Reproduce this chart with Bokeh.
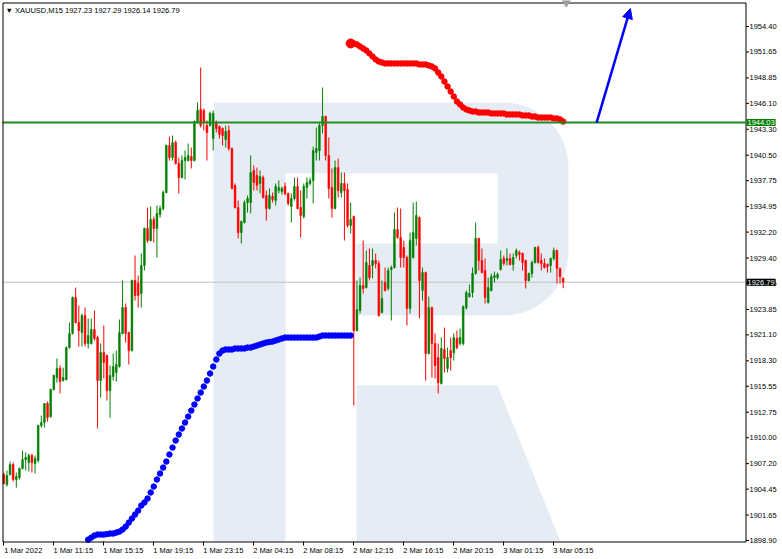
import numpy as np
from bokeh.plotting import figure
from bokeh.models import (FixedTicker, LinearAxis, Range1d, Label, Arrow,
                          NormalHead, ColumnDataSource)
from bokeh.core.properties import value
from bokeh.embed import file_html
from bokeh.resources import INLINE

# ---------------- data (XAUUSD, M15) ----------------
symbol_header = "\u25bc XAUUSD,M15  1927.23 1927.29 1926.14 1926.79"

open_ = [1906.02, 1904.94, 1906.02, 1907.10, 1905.48, 1905.69, 1906.67, 1907.64, 1907.31, 1908.07,
         1907.21, 1907.53, 1911.31, 1911.63, 1913.69, 1912.28, 1915.20, 1916.49, 1917.47, 1916.17,
         1916.28, 1919.73, 1921.25, 1925.13, 1922.43, 1921.35, 1923.19, 1920.17, 1920.17, 1921.68,
         1920.81, 1916.17, 1919.19, 1918.87, 1915.09, 1916.60, 1917.03, 1917.68, 1921.25, 1924.05,
         1921.35, 1919.41, 1926.97, 1926.65, 1925.57, 1928.59, 1932.59, 1931.29, 1933.56, 1932.59,
         1934.10, 1934.75, 1936.47, 1941.55, 1940.25, 1941.87, 1939.61, 1938.09, 1939.93, 1939.93,
         1940.36, 1939.93, 1944.03, 1945.44, 1945.33, 1943.71, 1943.71, 1942.31, 1944.03, 1943.60,
         1943.39, 1942.20, 1943.17, 1941.23, 1937.23, 1934.85, 1932.15, 1933.23, 1935.39, 1935.39,
         1938.85, 1938.31, 1937.45, 1938.09, 1936.15, 1934.75, 1936.04, 1935.61, 1936.69, 1936.58,
         1937.12, 1936.37, 1934.96, 1935.83, 1937.12, 1934.85, 1933.88, 1937.01, 1937.45, 1937.77,
         1940.79, 1941.01, 1943.71, 1944.68, 1940.47, 1937.01, 1934.75, 1939.17, 1936.47, 1937.45,
         1936.80, 1932.91, 1933.88, 1921.57, 1923.73, 1926.43, 1926.21, 1928.59, 1928.59, 1929.13,
         1928.81, 1923.51, 1926.75, 1926.11, 1928.16, 1928.37, 1932.48, 1931.61, 1930.53, 1929.45,
         1923.95, 1929.45, 1931.51, 1933.77, 1925.89, 1927.83, 1919.09, 1924.05, 1920.17, 1918.65,
         1915.85, 1919.52, 1917.47, 1919.41, 1919.19, 1920.71, 1920.17, 1920.17, 1924.05, 1925.24,
         1925.67, 1927.73, 1931.51, 1929.13, 1928.05, 1924.59, 1925.89, 1927.29, 1927.29, 1928.16,
         1929.35, 1929.13, 1929.35, 1928.70, 1929.67, 1929.99, 1929.89, 1929.13, 1926.97, 1927.73,
         1928.91, 1930.53, 1929.13, 1928.81, 1928.70, 1928.59, 1929.35, 1930.21, 1928.27, 1927.23]
high = [1906.23, 1906.45, 1907.42, 1907.31, 1906.23, 1906.77, 1908.61, 1908.39, 1908.28, 1908.28,
        1908.07, 1911.42, 1912.39, 1913.69, 1913.90, 1915.31, 1916.82, 1918.55, 1917.79, 1917.57,
        1919.84, 1922.43, 1925.24, 1926.21, 1924.27, 1923.41, 1924.05, 1922.87, 1922.87, 1923.73,
        1921.03, 1920.17, 1922.11, 1918.98, 1917.79, 1919.09, 1919.41, 1922.76, 1926.97, 1924.49,
        1921.46, 1927.08, 1929.67, 1927.51, 1929.89, 1932.69, 1934.85, 1934.96, 1933.88, 1935.07,
        1935.07, 1936.69, 1941.66, 1942.52, 1942.63, 1942.09, 1940.25, 1940.47, 1941.01, 1941.77,
        1941.33, 1944.25, 1946.19, 1949.97, 1945.55, 1944.25, 1945.22, 1945.33, 1944.25, 1943.71,
        1943.49, 1943.71, 1943.71, 1941.33, 1937.45, 1935.61, 1933.45, 1935.61, 1936.15, 1940.47,
        1939.39, 1939.17, 1938.85, 1938.31, 1936.69, 1936.91, 1936.47, 1937.45, 1937.77, 1937.12,
        1937.55, 1936.47, 1936.37, 1938.09, 1938.09, 1936.69, 1937.45, 1938.09, 1938.09, 1941.44,
        1943.49, 1944.03, 1947.81, 1944.79, 1942.41, 1939.07, 1939.93, 1940.15, 1938.63, 1938.63,
        1937.45, 1935.39, 1933.99, 1926.97, 1927.29, 1931.29, 1930.21, 1930.43, 1930.43, 1929.89,
        1929.13, 1926.97, 1928.37, 1928.37, 1928.59, 1934.31, 1934.85, 1934.75, 1931.29, 1929.67,
        1932.15, 1935.39, 1935.50, 1933.88, 1928.37, 1927.94, 1925.24, 1924.16, 1921.25, 1920.17,
        1920.81, 1921.89, 1919.73, 1920.81, 1921.25, 1921.57, 1921.79, 1924.27, 1925.89, 1926.54,
        1928.37, 1933.23, 1931.61, 1930.43, 1929.35, 1927.29, 1927.73, 1927.94, 1927.83, 1930.21,
        1929.67, 1930.43, 1929.89, 1929.89, 1930.43, 1930.21, 1929.99, 1929.24, 1927.83, 1929.13,
        1930.64, 1930.75, 1929.89, 1929.35, 1928.81, 1929.45, 1930.53, 1930.32, 1928.37, 1927.29]
low = [1904.94, 1904.72, 1905.91, 1905.26, 1904.61, 1905.48, 1906.56, 1906.45, 1906.34, 1906.23,
       1906.13, 1907.31, 1911.09, 1911.09, 1911.74, 1912.17, 1915.09, 1915.95, 1914.77, 1916.06,
       1916.17, 1919.63, 1921.14, 1922.33, 1919.84, 1919.84, 1919.84, 1919.63, 1920.06, 1920.49,
       1910.99, 1914.33, 1916.39, 1914.01, 1912.17, 1916.17, 1916.06, 1917.57, 1921.14, 1920.27,
       1917.90, 1919.30, 1924.81, 1924.05, 1924.05, 1928.05, 1931.07, 1931.18, 1931.07, 1929.45,
       1933.77, 1934.53, 1936.37, 1939.93, 1939.93, 1939.50, 1936.37, 1937.99, 1937.88, 1939.82,
       1939.07, 1939.82, 1943.93, 1943.49, 1943.17, 1939.93, 1943.60, 1941.01, 1942.95, 1942.31,
       1941.55, 1941.33, 1941.01, 1936.80, 1934.75, 1931.51, 1930.97, 1933.13, 1934.31, 1934.21,
       1936.69, 1936.69, 1936.37, 1935.83, 1933.45, 1934.64, 1935.39, 1935.07, 1936.37, 1936.26,
       1936.15, 1935.07, 1933.23, 1935.61, 1934.64, 1931.61, 1933.67, 1935.83, 1937.23, 1935.29,
       1939.93, 1939.93, 1942.85, 1939.93, 1935.83, 1933.77, 1934.64, 1935.93, 1935.93, 1931.29,
       1932.69, 1932.05, 1913.47, 1921.46, 1923.41, 1925.57, 1926.11, 1926.97, 1927.19, 1928.27,
       1923.08, 1923.41, 1925.79, 1925.89, 1922.65, 1928.27, 1931.51, 1928.37, 1928.37, 1922.11,
       1923.41, 1929.35, 1930.75, 1922.87, 1924.81, 1916.17, 1918.98, 1916.49, 1916.39, 1914.77,
       1915.74, 1917.03, 1917.03, 1917.25, 1918.33, 1919.52, 1919.95, 1919.95, 1923.84, 1925.13,
       1925.13, 1927.62, 1928.05, 1927.73, 1924.49, 1924.49, 1925.79, 1926.75, 1927.08, 1928.05,
       1928.59, 1928.59, 1928.59, 1928.05, 1929.35, 1929.13, 1928.05, 1926.11, 1926.86, 1927.29,
       1928.81, 1928.81, 1928.05, 1928.27, 1927.83, 1927.83, 1929.13, 1926.65, 1926.65, 1926.14]
close = [1905.05, 1905.91, 1907.10, 1905.48, 1905.80, 1906.67, 1907.64, 1907.85, 1908.07, 1907.31,
         1907.74, 1911.31, 1911.63, 1913.69, 1912.17, 1915.20, 1916.71, 1917.47, 1916.06, 1916.49,
         1919.73, 1921.25, 1925.13, 1922.43, 1921.57, 1923.19, 1920.17, 1921.03, 1921.68, 1920.71,
         1916.17, 1919.19, 1918.11, 1915.09, 1916.71, 1917.68, 1917.90, 1921.35, 1924.05, 1921.25,
         1919.41, 1926.97, 1925.35, 1925.35, 1928.59, 1932.59, 1931.29, 1933.56, 1932.59, 1934.21,
         1934.75, 1936.47, 1941.55, 1940.25, 1941.87, 1939.61, 1938.09, 1939.93, 1940.25, 1940.47,
         1939.93, 1944.14, 1945.33, 1943.71, 1944.03, 1942.95, 1945.01, 1945.01, 1943.39, 1942.74,
         1942.63, 1943.06, 1941.23, 1936.91, 1934.85, 1932.15, 1933.34, 1935.39, 1935.83, 1938.63,
         1937.55, 1937.23, 1938.20, 1935.93, 1934.75, 1936.15, 1935.72, 1937.12, 1937.01, 1936.91,
         1936.37, 1935.29, 1935.83, 1937.12, 1934.75, 1933.99, 1937.12, 1937.55, 1937.77, 1941.01,
         1941.23, 1943.71, 1944.68, 1940.47, 1936.91, 1934.75, 1939.17, 1936.69, 1937.45, 1936.69,
         1932.91, 1933.56, 1921.57, 1923.84, 1926.43, 1926.11, 1928.91, 1927.29, 1929.13, 1928.81,
         1923.19, 1925.03, 1925.89, 1928.05, 1928.37, 1932.48, 1931.61, 1929.45, 1929.45, 1923.95,
         1931.29, 1932.15, 1933.99, 1926.97, 1927.83, 1919.09, 1924.05, 1920.17, 1917.79, 1915.95,
         1919.63, 1918.55, 1918.65, 1918.65, 1920.81, 1919.73, 1920.81, 1924.16, 1925.67, 1925.57,
         1927.73, 1931.51, 1929.13, 1927.83, 1925.13, 1926.21, 1927.40, 1927.51, 1927.62, 1929.24,
         1928.81, 1929.35, 1928.70, 1929.45, 1930.21, 1929.78, 1928.91, 1926.97, 1927.73, 1928.91,
         1930.53, 1928.91, 1928.81, 1928.37, 1928.48, 1929.35, 1930.21, 1928.27, 1927.40, 1926.79]

# blue dotted indicator (bars 27..111) and red dotted indicator (bars 111..179)
blue_start = 27
blue_vals = [1898.99, 1899.21, 1899.43, 1899.54, 1899.54, 1899.54, 1899.59, 1899.65, 1899.65, 1899.75,
             1899.86, 1900.08, 1900.40, 1900.83, 1901.27, 1901.70, 1902.13, 1902.67, 1903.00, 1903.43,
             1904.08, 1904.72, 1905.48, 1906.13, 1906.77, 1907.42, 1908.18, 1908.93, 1909.69, 1910.34,
             1910.99, 1911.63, 1912.28, 1912.93, 1913.58, 1914.23, 1914.87, 1915.52, 1916.17, 1916.93,
             1917.68, 1918.44, 1919.09, 1919.41, 1919.52, 1919.52, 1919.52, 1919.63, 1919.63, 1919.63,
             1919.63, 1919.73, 1919.73, 1919.84, 1919.95, 1920.06, 1920.17, 1920.27, 1920.33, 1920.38,
             1920.49, 1920.60, 1920.71, 1920.81, 1920.81, 1920.81, 1920.81, 1920.81, 1920.81, 1920.81,
             1920.81, 1920.81, 1920.81, 1920.81, 1920.92, 1921.03, 1921.03, 1921.03, 1921.03, 1921.03,
             1921.03, 1921.03, 1921.03, 1921.03, 1921.03]
red_start = 111
red_vals = [1952.57, 1952.57, 1952.46, 1952.24, 1952.03, 1951.81, 1951.49, 1951.16, 1950.84, 1950.62,
            1950.51, 1950.41, 1950.41, 1950.41, 1950.41, 1950.41, 1950.41, 1950.41, 1950.41, 1950.41,
            1950.41, 1950.41, 1950.30, 1950.30, 1950.30, 1950.19, 1950.08, 1949.87, 1949.43, 1949.00,
            1948.46, 1947.92, 1947.38, 1946.84, 1946.30, 1945.98, 1945.65, 1945.44, 1945.33, 1945.22,
            1945.22, 1945.11, 1945.11, 1945.11, 1945.11, 1945.01, 1945.01, 1945.01, 1945.01, 1945.01,
            1944.90, 1944.90, 1944.90, 1944.90, 1944.90, 1944.79, 1944.79, 1944.79, 1944.68, 1944.68,
            1944.57, 1944.57, 1944.57, 1944.57, 1944.57, 1944.47, 1944.47, 1944.36, 1944.14]

level_line = 1944.03
last_price = 1926.79
arrow_x = [189.7, 200.5]
arrow_y = [1944.03, 1956.34]
shift_marker_bar = 180

y_ticks = [1954.40, 1951.65, 1948.85, 1946.10, 1943.30, 1940.50, 1937.75, 1934.95, 1932.20,
           1929.40, 1926.65, 1923.85, 1921.10, 1918.30, 1915.55, 1912.75, 1910.00, 1907.20,
           1904.45, 1901.65, 1898.90]
x_tick_bars = [0, 16, 32, 48, 64, 80, 96, 112, 128, 144, 160, 176]
x_tick_labels = ["1 Mar 2022", "1 Mar 11:15", "1 Mar 15:15", "1 Mar 19:15", "1 Mar 23:15",
                 "2 Mar 04:15", "2 Mar 08:15", "2 Mar 12:15", "2 Mar 16:15", "2 Mar 20:15",
                 "3 Mar 01:15", "3 Mar 05:15"]

# ---------------- layout helpers (pixel -> data, for frame decoration only) ----------------
BAR_PX = 3.125          # pixels per bar
PX0 = 3.3               # pixel of bar 0
PRICE_PX = 0.10798      # price per pixel
P26 = 1954.40           # price at pixel row 26


def X(px):
    return (px - PX0) / BAR_PX


def Y(py):
    return P26 - PRICE_PX * (py - 26)


FRAME_L, FRAME_T, FRAME_R, FRAME_B = 2, 2, 745, 541
FONT = "Liberation Sans"
GREEN = "#008000"
RED = "#ff0000"
BLUE = "#0000ff"

p = figure(width=782, height=559, output_backend="svg", toolbar_location=None,
           x_range=Range1d(X(0), X(782)), y_range=Range1d(Y(545), Y(0)),
           x_axis_location=None, y_axis_location=None,
           min_border_left=0, min_border_top=0, min_border_right=0, min_border_bottom=14,
           background_fill_color="white", border_fill_color="white")
p.xgrid.visible = False
p.ygrid.visible = False
p.outline_line_color = None

# background logo watermark (decoration)
t = np.linspace(0, np.pi / 2, 14)
outer = ([(213, 541), (213, 102)]
         + [(503 + 65 * np.sin(a), 167 - 65 * np.cos(a)) for a in t]
         + [(503 + 65 * np.cos(a), 250 + 65 * np.sin(a)) for a in t]
         + [(356, 315), (356, 243), (497, 243), (497, 173), (285, 173), (285, 541)])
leg = [(356, 385), (497, 385), (560, 541), (356, 541)]
p.patches(xs=[[X(a) for a, b in outer], [X(a) for a, b in leg]],
          ys=[[Y(b) for a, b in outer], [Y(b) for a, b in leg]],
          fill_color="#e6ecf4", line_color=None)

# last price line (behind candles)
p.segment(x0=[X(FRAME_L)], y0=[last_price], x1=[X(FRAME_R)], y1=[last_price],
          line_color="#c0c0c0", line_width=1)

# candles
n = len(close)
idx = list(range(n))
colors = [GREEN if c >= o else RED for o, c in zip(open_, close)]
src = ColumnDataSource(dict(x=idx, o=open_, h=high, l=low, c=close,
                            top=[max(o, c) for o, c in zip(open_, close)],
                            bot=[min(o, c) for o, c in zip(open_, close)],
                            col=colors))
p.segment(x0="x", y0="h", x1="x", y1="l", source=src, line_color="col", line_width=1)
p.vbar(x="x", width=0.55, top="top", bottom="bot", source=src, fill_color="col",
       line_color="col", line_width=0.6)

# indicators
bx = list(range(blue_start, blue_start + len(blue_vals)))
p.scatter(bx, blue_vals, size=5.5, fill_color=BLUE, line_color=BLUE)
rx = list(range(red_start, red_start + len(red_vals)))
p.scatter(rx[1:], red_vals[1:], size=5.5, fill_color=RED, line_color=RED)
p.scatter(rx[:1], red_vals[:1], size=9, fill_color=RED, line_color=RED)

# horizontal level
p.segment(x0=[X(FRAME_L)], y0=[level_line], x1=[X(FRAME_R)], y1=[level_line],
          line_color="#228b22", line_width=2)

p.add_layout(Arrow(end=NormalHead(size=10, fill_color=BLUE, line_color=BLUE),
                   x_start=arrow_x[0], y_start=arrow_y[0], x_end=arrow_x[1], y_end=arrow_y[1],
                   line_color=BLUE, line_width=2.5))

# chart frame
fx0, fx1, fy0, fy1 = X(FRAME_L + 0.5), X(FRAME_R + 0.5), Y(FRAME_B + 0.5), Y(FRAME_T + 0.5)
p.segment(x0=[fx0, fx0, fx1, fx0], y0=[fy0, fy1, fy0, fy0],
          x1=[fx0, fx1, fx1, fx1], y1=[fy1, fy1, fy1, fy0],
          line_color="black", line_width=1)

# chart-shift marker on the top border
p.scatter([shift_marker_bar], [Y(2)], marker="inverted_triangle", size=8,
          fill_color="#a0a0a0", line_color="#a0a0a0")

# price scale on the right (ticks + labels)
p.segment(x0=[X(FRAME_R + 0.5)] * len(y_ticks), y0=y_ticks,
          x1=[X(FRAME_R + 3.5)] * len(y_ticks), y1=y_ticks, line_color="black", line_width=1)
p.text(x=[X(FRAME_R + 4)] * len(y_ticks), y=y_ticks, text=[f"{v:.2f}" for v in y_ticks],
       text_font=value(FONT), text_font_size="7.5px", text_color="black",
       text_baseline="middle", text_align="left")

# price tags
p.add_layout(Label(x=X(FRAME_R + 1), y=level_line, text=f"{level_line:.2f}", text_font=FONT,
                   text_font_size="7.5px", text_color="white", text_baseline="middle",
                   background_fill_color=GREEN, padding=1))
p.add_layout(Label(x=X(FRAME_R + 1), y=last_price, text=f"{last_price:.2f}", text_font=FONT,
                   text_font_size="7.5px", text_color="white", text_baseline="middle",
                   background_fill_color="black", padding=1))

# header
p.add_layout(Label(x=X(FRAME_L + 3), y=Y(FRAME_T + 3), text=symbol_header, text_font=FONT,
                   text_font_size="7.5px", text_color="black", text_baseline="top"))

# time axis below
shift = 6.25
xaxis = LinearAxis(ticker=FixedTicker(ticks=[b + shift for b in x_tick_bars], minor_ticks=x_tick_bars),
                   major_label_overrides={b + shift: s for b, s in zip(x_tick_bars, x_tick_labels)},
                   major_tick_out=0, major_tick_in=0, minor_tick_out=0, minor_tick_in=4,
                   minor_tick_line_color="black", major_tick_line_color=None,
                   major_label_standoff=0, major_label_text_font=FONT,
                   major_label_text_font_size="7.5px", major_label_text_color="black",
                   axis_line_color=None)
p.add_layout(xaxis, "below")

open("out.html", "w").write(file_html(p, INLINE))
